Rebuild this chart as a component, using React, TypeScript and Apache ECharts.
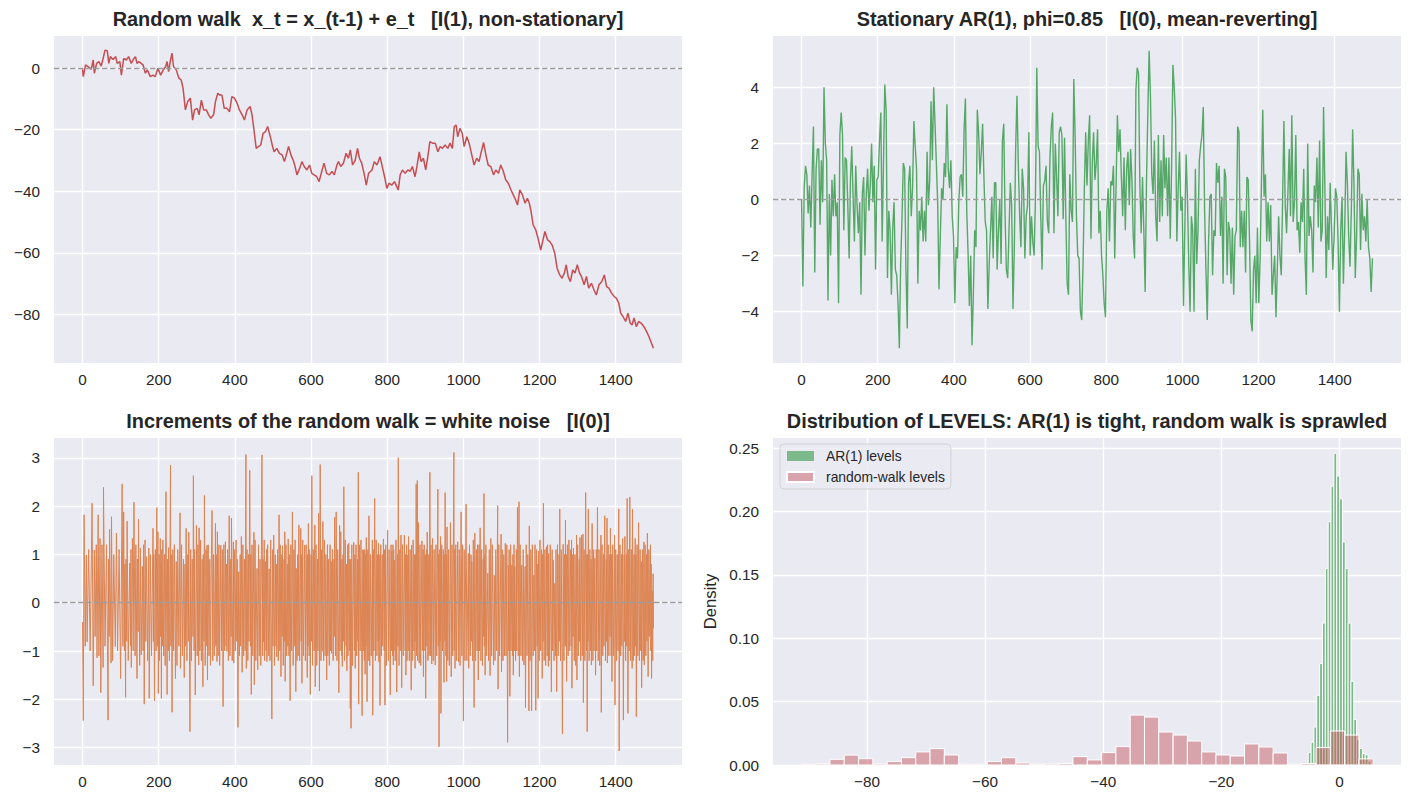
import React, { useEffect, useRef } from "react";
import * as echarts from "echarts";

// ---------------- data ----------------
// random walk: [step, level]
const rwPoints: [number, number][] = [
  [0,-0.4],[2,-2.8],[8,1.0],[17,0.2],[23,-0.4],[28,2.6],[31,-1.7],[37,1.5],[43,2.1],[49,0.6],[54,3.1],[59,5.8],[65,5.6],[69,1.5],[73,3.7],[80,2.8],[87,3.7],[91,1.5],[98,2.1],[102,-2.3],[108,3.1],[115,2.6],[121,3.7],[128,1.5],[135,3.1],[139,3.7],[143,1.5],[148,2.1],[154,1.5],[159,1.0],[165,-1.7],[170,-0.6],[178,-2.8],[185,-2.3],[191,-2.8],[198,-0.1],[205,-2.3],[212,-0.6],[218,0.4],[222,2.1],[226,-1.2],[231,2.6],[235,4.8],[239,0.4],[246,-0.6],[253,-3.3],[259,-3.9],[264,-6.6],[270,-13.6],[276,-10.9],[283,-9.8],[289,-16.9],[294,-13.6],[301,-13.1],[306,-15.2],[312,-10.4],[318,-13.6],[325,-13.6],[331,-15.2],[337,-16.3],[344,-15.2],[349,-10.9],[355,-8.2],[360,-8.8],[366,-8.8],[372,-13.1],[379,-13.1],[386,-14.2],[392,-9.3],[399,-9.8],[406,-11.5],[412,-13.6],[419,-15.2],[425,-16.9],[432,-13.6],[440,-12.5],[445,-15.2],[449,-19.0],[456,-26.1],[462,-25.5],[468,-25.0],[474,-21.2],[480,-20.7],[486,-19.0],[493,-22.3],[499,-25.5],[503,-27.2],[510,-26.1],[517,-27.7],[524,-28.2],[530,-30.4],[535,-28.2],[541,-25.5],[547,-28.2],[553,-29.9],[557,-31.5],[563,-34.7],[570,-32.6],[576,-30.4],[582,-32.0],[589,-33.1],[596,-31.5],[602,-34.2],[608,-34.7],[615,-35.3],[621,-36.9],[628,-33.6],[634,-30.9],[641,-34.2],[648,-34.7],[655,-33.6],[661,-34.7],[668,-31.5],[672,-30.4],[678,-32.0],[685,-30.9],[692,-27.7],[698,-29.3],[703,-26.6],[709,-31.5],[716,-29.9],[722,-26.1],[727,-29.3],[733,-30.9],[740,-34.7],[745,-38.0],[751,-34.2],[760,-33.1],[766,-30.4],[773,-31.5],[781,-28.8],
  [787,-32.0],[793,-35.3],[799,-39.1],[805,-37.4],[812,-38.0],[819,-36.9],[825,-38.5],[829,-39.6],[834,-34.7],[840,-33.1],[847,-34.2],[854,-33.1],[860,-33.6],[866,-32.0],[873,-35.3],[878,-32.0],[884,-27.2],[889,-30.4],[895,-29.3],[901,-33.1],[906,-29.3],[912,-23.9],[919,-24.4],[926,-24.4],[933,-27.2],[939,-25.5],[945,-26.1],[952,-25.0],[959,-26.1],[965,-24.4],[971,-26.1],[976,-19.0],[981,-18.5],[985,-22.3],[991,-19.6],[997,-21.2],[1002,-25.5],[1009,-22.3],[1015,-24.4],[1022,-28.2],[1028,-31.5],[1035,-29.3],[1041,-30.4],[1046,-27.7],[1053,-24.2],[1059,-28.2],[1065,-31.5],[1072,-32.0],[1079,-34.7],[1085,-33.1],[1092,-34.2],[1098,-31.5],[1105,-33.6],[1111,-36.3],[1118,-37.4],[1125,-39.6],[1131,-41.2],[1137,-42.8],[1142,-44.5],[1148,-39.6],[1155,-41.2],[1162,-43.9],[1168,-42.3],[1173,-43.9],[1177,-46.1],[1183,-50.9],[1190,-52.6],[1196,-55.3],[1203,-59.1],[1208,-56.4],[1214,-53.1],[1221,-55.8],[1227,-56.4],[1233,-57.5],[1240,-60.2],[1246,-65.0],[1253,-67.2],[1259,-68.3],[1265,-66.6],[1270,-63.9],[1275,-67.7],[1281,-69.4],[1287,-65.6],[1293,-66.6],[1299,-63.9],[1305,-66.6],[1310,-67.7],[1317,-70.4],[1323,-67.7],[1329,-71.5],[1336,-69.9],[1343,-72.1],[1349,-73.7],[1356,-70.4],[1363,-69.4],[1370,-67.2],[1376,-71.0],[1382,-71.5],[1389,-73.1],[1396,-74.2],[1402,-74.8],[1408,-76.4],[1413,-79.6],[1419,-80.7],[1426,-82.3],[1432,-79.6],[1438,-82.9],[1443,-83.4],[1448,-81.2],[1454,-84.0],[1460,-82.3],[1467,-82.9],[1474,-84.0],[1481,-85.6],[1487,-87.2],[1492,-88.8],[1499,-91.0]
];

// stationary AR(1) levels, read at evenly spaced steps over 0..1499
const arLastStep = 1499;
const arLevels: number[] = [
  0.0,-3.1,0.4,1.2,0.9,-0.5,0.5,-1.0,0.9,2.6,
  -2.6,1.1,1.8,1.8,-0.9,1.4,-0.1,4.0,2.0,1.4,
  -3.6,0.2,-2.0,0.7,-0.6,0.9,-0.6,-0.1,-3.7,2.3,
  3.1,2.3,-1.1,1.5,1.4,-0.2,-2.1,0.7,1.9,0.1,
  -1.5,1.2,-0.2,-1.2,-0.1,-3.4,0.2,0.8,-2.0,0.2,
  1.1,-0.4,0.5,2.0,-0.1,1.2,-2.5,0.7,0.8,2.1,
  3.1,-1.5,1.3,4.1,3.2,-2.8,-0.4,-1.1,-3.4,-1.0,
  -0.1,-2.5,-2.7,-3.7,-5.3,-2.3,-0.7,1.3,1.1,-2.5,
  -4.6,0.6,1.2,-0.6,0.4,2.8,1.9,1.1,-3.0,-0.4,
  -1.1,0.1,-1.5,-0.4,-1.5,1.7,-0.2,0.7,3.5,1.4,
  4.0,2.7,1.3,-0.1,-3.2,-1.3,0.4,0.0,1.3,0.8,
  3.4,1.1,0.4,1.4,-0.6,-1.3,-3.7,-1.7,-2.1,-0.1,
  0.8,0.9,0.1,2.5,3.6,-0.4,-1.9,-3.8,-2.0,-5.2,
  -3.4,-1.1,-1.7,3.2,2.4,0.9,1.7,2.7,0.8,-0.8,
  -1.1,-3.9,-2.3,-1.1,0.1,-2.1,0.6,0.6,-2.5,-1.1,
  0.0,-2.3,2.1,2.7,-0.6,-2.5,-2.8,-1.1,0.6,-0.2,
  -3.9,-1.7,1.8,3.7,1.3,-0.5,-1.7,1.1,0.4,-2.1,
  -0.6,-0.2,2.4,-2.0,-0.6,-1.5,-2.0,0.1,4.7,1.9,
  1.7,-0.6,-2.5,0.5,0.65,1.2,-0.8,-1.2,1.5,2.6,
  3.1,-1.2,2.0,0.8,-0.6,2.4,2.6,2.3,-0.7,2.2,
  -0.7,-3.0,-3.4,0.9,-0.4,-0.8,4.3,2.3,-0.6,-2.0,
  -2.1,-4.0,-4.3,
  -2.3,0.4,2.4,0.5,2.1,3.0,-1.4,1.3,2.4,0.7,
  1.3,2.5,-1.2,-0.4,-2.0,-2.7,-3.7,-4.2,-0.4,0.4,
  -1.5,0.65,0.5,1.2,-2.1,0.5,3.0,1.7,2.5,0.8,
  -0.6,1.5,-1.1,1.1,1.7,-0.2,1.8,0.7,-1.3,-2.1,
  3.9,4.7,4.5,0.5,-1.2,0.8,-1.1,-3.3,0.6,3.0,
  5.3,3.7,0.9,0.2,2.1,-0.6,-1.5,2.3,-0.8,1.4,
  -0.6,2.3,0.4,1.5,-0.6,1.5,-1.4,1.1,4.8,4.0,
  2.9,-1.5,0.4,1.7,-0.4,0.1,-3.8,-1.1,1.6,0.1,
  -2.3,-4.0,-0.6,-1.1,-4.0,1.1,-2.3,-1.1,1.4,1.9,
  2.3,3.3,-0.4,-2.5,-4.3,-1.5,0.1,0.2,-2.7,-1.1,
  -1.3,1.3,0.6,1.2,-1.3,0.1,-3.0,1.1,0.8,-2.7,
  -0.8,-1.1,-3.0,-1.0,-3.4,-1.3,-1.1,2.6,2.4,-1.7,
  -0.4,-1.7,-0.4,-2.6,0.8,0.7,-1.5,-4.3,-4.7,-2.5,
  -2.0,-3.7,-1.0,-3.7,-2.1,0.6,3.2,0.1,0.9,-1.5,
  -0.1,-1.5,-0.2,-3.4,-2.7,-2.0,-4.2,-2.5,-0.6,-2.0,
  -2.7,-0.1,2.8,-0.2,-1.2,0.2,1.8,-0.6,3.0,-0.8,
  -0.1,2.3,-1.1,-0.8,-1.9,-0.1,-0.8,1.1,-2.1,-3.4,
  2.0,-1.3,-0.6,-1.1,-2.6,0.5,-0.1,1.5,-1.0,2.1,
  -1.5,-1.1,3.3,0.4,-2.8,-0.6,-1.8,0.6,-1.0,-2.5,
  -1.3,0.4,0.1,-1.5,-4.0,-1.1,0.1,-3.0,-1.1,1.7,
  0.6,-1.3,-2.4,-0.4,2.5,0.6,-2.8,-1.3,1.1,0.9,
  -1.8,0.2,-1.1,-0.6,-1.5,0.0,-1.7,-2.1,-3.3,-2.1
];

// increments (white noise): [step, value]
const noisePoints: [number, number][] = [
  [0,-0.4],[2,-2.44],[4,1.82],[7,-0.9],[10,0.99],[12,-0.81],[16,1.1],[20,-1.0],[25,2.06],[28,-1.72],[31,1.09],[33,-0.7],[36,1.2],[38,-1.14],[41,1.82],[43,-1.1],[46,1.33],[48,-1.86],[51,1.2],[54,-1.34],[55,2.39],[59,-0.9],[63,1.2],[67,-2.43],[68,0.9],[70,-0.7],[71,1.52],[75,-1.25],[76,1.78],[79,-1.2],[82,1.0],[86,-0.91],[89,1.44],[92,-1.0],[96,1.1],[100,-1.57],[104,2.46],[106,-0.9],[108,1.88],[110,-1.0],[111,0.8],[113,-1.96],[114,0.9],[116,-0.8],[117,1.69],[120,-1.2],[124,0.82],[126,-0.9],[127,1.1],[128,-1.34],[131,1.33],[133,-1.0],[135,2.08],[138,-1.1],[140,1.2],[143,-1.57],[144,0.9],[146,-0.6],[147,1.73],[150,-1.3],[152,1.13],[154,-1.08],[157,0.75],[159,-1.0],[160,1.2],[162,-2.10],[164,1.3],[166,-0.8],[168,0.95],[171,-1.2],[174,1.13],[175,-1.98],[178,1.0],[181,-1.1],[185,1.54],[186,-0.8],[187,1.0],[189,-2.03],[191,1.1],[193,-1.0],[195,1.97],[196,-0.9],[198,1.47],[199,-1.88],[201,1.0],[202,-1.2],[204,1.33],[205,-0.7],[206,0.8],[207,-1.98],[208,1.1],[210,-0.9],[211,1.30],[213,-1.1],[215,1.0],[217,-1.3],[219,2.30],[222,-1.90],[223,0.9],[225,-1.0],[226,1.14],[228,-1.2],[231,2.85],[232,-0.9],[233,1.0],[235,-2.27],[237,1.1],[239,-1.0],[241,1.2],[244,-1.57],[246,0.85],[248,-1.3],[250,1.1],[253,-0.9],[256,1.86],[257,-1.36],[260,1.2],[262,-1.1],[265,0.9],[267,-1.55],[269,0.8],[270,-0.9],[272,1.54],[274,-1.2],[276,1.0],[278,-0.8],[279,1.46],[282,-2.67],[284,1.1],[286,-1.2],[288,0.9],[290,-0.7],[291,2.63],[293,-1.0],[294,1.1],[296,-1.91],[299,1.60],[301,-1.1],[303,1.2],[305,-1.29],[306,1.55],[308,-1.0],[310,1.3],[312,-1.2],[314,0.9],[316,-1.74],[317,1.0],[319,-0.8],[320,2.22],[322,-1.3],[324,1.1],[326,-0.9],[327,1.19],[328,-1.60],[330,1.2],[332,-1.1],[334,0.9],[336,-1.3],[338,0.8],[340,1.91],[342,-1.2],[344,1.0],[346,-1.1],[349,1.64],[350,-0.9],[351,1.0],[353,-1.22],[354,1.47],[356,-1.1],[358,1.2],[360,-1.3],[363,1.19],[365,-1.0],[367,1.1],[369,-2.15],[371,1.2],[373,-1.0],[375,1.26],[377,-0.9],[378,0.8],[379,-1.01],[381,1.1],[383,-1.2],[385,1.80],[387,-1.1],[389,0.9],[390,-0.7],[391,1.75],[393,-1.2],[396,1.26],[397,-1.25],[399,1.1],[401,-1.0],[403,1.3],[405,-0.8],[406,0.9],[408,-2.58],[410,0.64],[412,-1.1],[414,1.0],[415,-0.9],[417,1.37],[419,-1.44],[421,1.2],[423,-1.1],[425,0.9],[427,-1.0],[429,3.07],[430,-1.36],[432,1.1],[434,-1.2],[436,1.0],[437,-0.8],[439,2.74],[441,-0.9],[442,1.0],[443,-1.90],[445,1.2],[447,-1.1],[450,1.46],[451,-1.70],[453,1.3],[455,-1.2],[458,0.71],[460,-1.39],[462,1.2],[464,-1.1],[466,0.9],[468,-1.3],[471,3.06],[473,-1.1],[474,0.9],[475,-0.81],[477,1.3],[478,-1.2],[480,0.85],[482,-1.0],[483,1.1],[484,-1.22],[486,1.2],[488,-1.1],[490,0.70],[492,-1.2],[494,1.3],[497,-2.41],[499,1.1],[500,-0.9],[502,1.40],[504,-1.3],[506,1.0],[508,-0.9],[509,0.8],[510,-1.12],[512,1.1],[514,-1.2],[516,1.82],[518,-1.0],[519,1.2],[521,-1.53],[523,1.0],[524,-0.7],[525,1.18],[527,-1.3],[529,0.9],[530,-0.8],[531,1.47],[532,-1.63],[534,1.2],[536,-1.1],[538,0.8],[539,-0.9],[540,1.32],[542,-1.1],[543,1.0],[545,-2.03],[547,1.2],[549,-1.0],[551,1.88],[553,-1.3],[555,1.1],[557,-0.9],[558,1.3],[560,-1.84],[561,0.71],[563,-1.2],[565,1.0],[566,-1.1],[568,1.61],[570,-1.2],[573,1.54],[574,-0.8],[575,1.0],[576,-1.67],[578,1.3],[580,-1.1],[583,1.19],[585,-1.2],[587,1.2],[590,-1.55],[591,1.0],[592,-0.9],[593,1.64],[595,-1.1],[596,1.1],[598,-1.90],[600,1.0],[601,-0.8],[602,2.63],[604,-1.3],[606,1.1],[608,-1.0],[610,1.61],[611,-1.74],[613,1.2],[615,-1.3],[617,0.9],[618,-1.0],[620,1.85],[622,-1.83],[624,2.86],[626,-1.2],[627,1.1],[629,-1.01],[631,1.68],[633,-1.2],[635,1.3],[637,-1.1],[639,1.0],[641,-1.60],[643,1.2],[644,-1.1],[646,0.90],[648,-1.3],[650,1.2],[651,-1.0],[653,0.85],[654,-1.05],[656,1.1],[658,-1.2],[660,0.9],[661,-0.7],[662,1.77],[664,-1.1],[666,1.88],[668,-1.2],[670,1.1],[673,-1.86],[675,1.60],[676,-1.0],[678,1.47],[680,-1.1],[681,0.9],[682,-1.32],[684,1.0],[685,-0.8],[686,2.40],[688,-1.2],[690,1.3],[692,-0.9],[693,0.8],[694,-1.41],[696,1.2],[697,-1.1],[699,1.23],[701,-1.0],[702,0.9],[703,-2.19],[704,0.9],[705,-2.60],[707,1.2],[709,-1.3],[712,1.25],[714,-1.0],[715,1.0],[716,-1.36],[718,1.2],[720,-1.1],[722,0.9],[723,-0.8],[724,2.70],[725,-2.10],[727,1.2],[729,-1.0],[731,1.3],[734,-2.34],[736,1.1],[737,-1.0],[738,1.09],[740,-1.2],[741,1.1],[742,-1.48],[743,1.0],[744,-0.9],[745,1.35],[747,-2.05],[749,1.1],[750,-1.2],[752,1.80],[754,-1.3],[756,1.0],[758,-1.1],[761,1.30],[762,-2.33],[764,1.1],[765,-1.0],[767,2.16],[769,-1.2],[771,1.3],[773,-1.1],[775,1.0],[776,-0.8],[777,1.23],[778,-1.22],[779,1.0],
  [781,-2.13],[783,1.2],[785,-1.1],[787,1.0],[788,-0.9],[790,1.32],[792,-1.0],[793,1.1],[794,-2.12],[796,1.2],[798,-1.3],[801,1.50],[803,-1.2],[805,1.1],[808,-1.91],[810,1.2],[811,-1.0],[812,1.06],[814,-1.1],[815,1.2],[816,-1.29],[817,1.1],[818,-1.0],[819,0.88],[821,-1.2],[823,1.3],[825,-1.85],[827,1.0],[828,-0.9],[829,3.00],[831,-1.3],[833,1.1],[834,-1.0],[836,1.40],[838,-1.76],[840,1.2],[842,-1.1],[845,1.40],[847,-1.0],[848,1.0],[849,-1.50],[851,1.2],[852,-1.2],[854,0.99],[855,-1.0],[856,1.37],[858,-1.2],[860,1.1],[863,-1.81],[864,1.19],[866,-1.2],[868,1.3],[870,-1.0],[871,1.0],[873,-1.36],[874,1.0],[875,-0.8],[876,2.46],[877,-1.1],[879,2.53],[880,-1.2],[882,1.66],[884,-1.25],[886,1.2],[888,-1.3],[891,1.28],[893,-1.0],[894,1.1],[895,-1.53],[897,1.2],[899,-1.0],[900,1.0],[901,-1.98],[903,1.1],[904,-0.9],[905,1.46],[907,-1.2],[909,1.0],[910,-1.1],[912,2.70],[914,-1.1],[915,1.2],[917,-1.27],[919,1.33],[921,-1.2],[923,1.1],[926,-1.29],[928,1.2],[930,-1.1],[933,2.35],[934,-0.9],[935,1.0],[936,-2.98],[938,1.1],[939,-0.8],[940,1.37],[941,-2.29],[943,1.2],[945,-1.0],[947,1.1],[949,-1.65],[950,1.0],[951,-0.8],[952,2.28],[954,-1.1],[955,1.0],[956,-1.63],[957,1.57],[959,-1.2],[961,1.1],[963,-1.3],[966,1.66],[968,-1.53],[970,1.2],[972,-1.1],[975,3.11],[976,-1.0],[977,1.1],[978,-1.36],[980,1.2],[982,-1.2],[985,1.26],[987,-1.22],[989,1.1],[991,-1.3],[994,1.88],[996,-1.1],[998,1.2],[1000,-2.45],[1002,1.1],[1004,-1.2],[1007,2.04],[1009,-1.2],[1013,1.02],[1014,-1.36],[1016,1.2],[1018,-1.1],[1020,1.0],[1021,-0.8],[1022,0.85],[1024,-1.2],[1026,1.3],[1028,-2.17],[1030,1.44],[1032,-1.2],[1034,1.1],[1036,-1.0],[1037,1.2],[1039,-1.60],[1041,1.2],[1042,-1.0],[1044,1.55],[1046,-1.2],[1048,1.1],[1050,-1.3],[1052,0.9],[1053,-0.7],[1054,2.26],[1055,-0.9],[1056,1.0],[1057,-1.50],[1059,1.2],[1061,-1.1],[1064,0.61],[1066,-1.2],[1068,1.1],[1070,-1.51],[1072,1.33],[1074,-1.1],[1076,1.2],[1079,-1.29],[1081,0.57],[1083,-1.2],[1085,1.1],[1087,-1.0],[1090,2.01],[1091,-1.79],[1093,1.2],[1095,-1.1],[1099,1.42],[1100,-1.43],[1102,1.1],[1104,-1.2],[1106,1.0],[1108,-1.1],[1110,1.23],[1112,-1.1],[1114,1.2],[1116,-2.89],[1118,0.78],[1119,-1.0],[1120,1.1],[1122,-1.94],[1124,1.2],[1125,-1.0],[1127,0.78],[1129,-1.1],[1130,1.0],[1131,-1.50],[1133,1.2],[1134,-1.0],[1135,0.75],[1137,-1.2],[1139,1.1],[1140,-1.0],[1142,1.97],[1144,-1.1],[1146,2.09],[1147,-1.53],[1149,1.2],[1151,-1.1],[1153,0.78],[1155,-1.2],[1157,1.1],[1159,-1.29],[1162,0.75],[1163,-2.17],[1165,1.2],[1167,-1.1],[1169,1.0],[1172,-2.24],[1173,1.59],[1175,-1.2],[1177,1.1],[1179,-2.24],[1181,1.2],[1183,-1.1],[1185,0.57],[1187,-1.0],[1188,1.2],[1190,-2.23],[1192,1.1],[1194,-0.9],[1195,0.8],[1196,-1.98],[1197,1.07],[1199,-1.2],[1201,1.3],[1203,-1.0],[1205,1.1],[1207,-1.57],[1208,1.0],[1209,-0.8],[1210,2.06],[1212,-1.2],[1214,1.1],[1216,-1.3],[1218,1.16],[1220,-1.1],[1221,1.2],[1223,-1.32],[1224,1.02],[1226,-1.2],[1228,1.2],[1231,-1.85],[1233,1.1],[1234,-1.0],[1236,0.88],[1238,-1.2],[1240,0.40],[1242,-1.1],[1243,1.1],[1245,-1.84],[1247,1.2],[1249,-1.1],[1251,1.0],[1252,-0.8],[1253,1.94],[1255,-1.2],[1257,1.1],[1260,-2.72],[1262,1.21],[1264,-1.2],[1266,1.0],[1267,-0.9],[1268,1.71],[1269,-0.9],[1270,1.0],[1271,-1.63],[1273,1.2],[1275,-1.1],[1277,1.3],[1279,-1.0],[1281,1.1],[1283,-0.9],[1284,1.30],[1285,-1.77],[1287,1.0],[1288,-0.7],[1289,1.13],[1291,-1.2],[1293,1.0],[1295,-1.3],[1297,1.40],[1298,-1.60],[1300,1.2],[1302,-1.1],[1304,0.9],[1305,-0.8],[1306,1.35],[1308,-1.2],[1310,1.40],[1312,-1.1],[1314,1.42],[1315,-2.07],[1317,1.1],[1319,-1.2],[1321,2.28],[1323,-1.0],[1324,1.0],[1325,-2.67],[1326,1.0],[1327,-0.8],[1328,1.94],[1330,-1.2],[1332,1.1],[1334,-1.0],[1335,0.9],[1336,-1.29],[1338,1.64],[1340,-1.2],[1342,1.1],[1343,-1.0],[1345,0.92],[1347,-1.50],[1349,1.1],[1350,-1.0],[1352,1.97],[1354,-1.2],[1356,1.1],[1358,-1.3],[1361,1.40],[1362,-2.27],[1364,1.2],[1366,-1.1],[1368,1.0],[1369,-0.9],[1371,1.80],[1373,-1.2],[1375,0.9],[1376,-0.8],[1377,1.75],[1378,-1.25],[1380,1.2],[1382,-1.1],[1384,1.0],[1385,-0.7],[1386,1.54],[1388,-1.1],[1389,1.0],[1390,-1.63],[1392,1.2],[1394,-1.1],[1397,1.40],[1398,-2.12],[1400,1.1],[1402,-1.2],[1404,1.0],[1406,-1.0],[1408,1.94],[1409,-3.07],[1411,1.2],[1413,-1.1],[1415,1.0],[1416,-0.9],[1418,1.33],[1420,-2.43],[1422,1.0],[1423,-0.8],[1424,1.37],[1426,-1.2],[1428,1.0],[1429,-0.9],[1430,2.16],[1432,-2.29],[1434,1.1],[1435,-1.0],[1437,2.19],[1439,-1.2],[1441,1.1],[1443,-1.36],[1444,1.94],[1446,-1.2],[1448,1.0],[1449,-1.1],[1451,1.33],[1452,-0.9],[1453,1.0],[1454,-2.36],[1456,1.2],[1458,-1.1],[1460,1.66],[1462,-1.2],[1464,1.1],[1465,-1.0],[1467,0.85],[1468,-1.76],[1470,1.1],[1472,-1.2],[1474,1.26],[1475,-1.29],[1477,1.2],[1479,-1.1],[1481,1.0],[1482,-0.8],[1483,1.44],[1485,-1.53],[1487,1.1],[1488,-0.7],[1489,0.23],[1491,1.2],[1492,-1.0],[1493,0.8],[1494,-1.57],[1496,0.24],[1497,-1.2],[1498,0.6],[1499,-0.53]
];

// histograms (density)
const arBinStart = -5.3;
const arBinWidth = 0.482;
const arDensity = [0.010,0.018,0.030,0.055,0.080,0.112,0.155,0.192,0.220,0.246,0.228,0.210,0.176,0.155,0.112,0.066,0.036,0.020,0.013,0.009,0.008,0.003];
const rwBinStart = -91.1;
const rwBinWidth = 2.42;
const rwDensity = [0.0006,0.0008,0.0045,0.0078,0.0050,0.0008,0.0027,0.0058,0.0103,0.0129,0.0079,0.0006,0.0006,0.0027,0.0058,0.0016,0.0006,0.0008,0.0012,0.0066,0.0040,0.0098,0.0145,0.0394,0.0378,0.0260,0.0236,0.0189,0.0103,0.0079,0.0071,0.0166,0.0142,0.0095,0.0006,0.0012,0.0137,0.0268,0.0236,0.0048];

// ticks
const stepTicks = [0, 200, 400, 600, 800, 1000, 1200, 1400];
const rwTicks = [-80, -60, -40, -20, 0];
const arTicks = [-4, -2, 0, 2, 4];
const noiseTicks = [-3, -2, -1, 0, 1, 2, 3];
const densityTicks = [0, 0.05, 0.1, 0.15, 0.2, 0.25];
const levelTicks = [-80, -60, -40, -20, 0];

const titles = [
  "Random walk  x_t = x_(t-1) + e_t   [I(1), non-stationary]",
  "Stationary AR(1), phi=0.85   [I(0), mean-reverting]",
  "Increments of the random walk = white noise   [I(0)]",
  "Distribution of LEVELS: AR(1) is tight, random walk is sprawled",
];
const legendNames = ["AR(1) levels", "random-walk levels"];

// ---------------- styling ----------------
const FONT = "'Liberation Sans', Arial, Helvetica, sans-serif";
const INK = "#262626";
const PANEL = "#EAEAF2";
const RED = "#C44E52";
const GREEN = "#55A868";
const ORANGE = "#DD8452";
const TICK_FS = 15.3;

const minus = (v: number) => String(v).replace("-", "\u2212");

function xAxisFor(grid: number, min: number, max: number, ticks: number[], splitNumber: number) {
  return {
    type: "value",
    gridIndex: grid,
    min,
    max,
    splitNumber,
    axisLine: { show: false },
    axisTick: { show: false, customValues: ticks },
    axisLabel: {
      customValues: ticks,
      formatter: (v: number) => minus(v),
      fontSize: TICK_FS,
      color: INK,
      fontFamily: FONT,
      margin: 9,
    },
    splitLine: { show: true, lineStyle: { color: "#ffffff", width: 1.4 } },
  };
}

function yAxisFor(grid: number, min: number, max: number, ticks: number[], splitNumber: number, fmt?: (v: number) => string) {
  return {
    type: "value",
    gridIndex: grid,
    min,
    max,
    splitNumber,
    axisLine: { show: false },
    axisTick: { show: false, customValues: ticks },
    axisLabel: {
      customValues: ticks,
      formatter: fmt || ((v: number) => minus(v)),
      fontSize: TICK_FS,
      color: INK,
      fontFamily: FONT,
      margin: 14,
    },
    splitLine: { show: true, lineStyle: { color: "#ffffff", width: 1.4 } },
  };
}

const zeroLine = {
  silent: true,
  symbol: ["none", "none"],
  label: { show: false },
  lineStyle: { color: "#9d9da1", type: [5.5, 2.5], width: 1.4 },
  data: [{ yAxis: 0 }],
};

function histRenderer(fill: string) {
  return (params: any, api: any) => {
    const topLeft = api.coord([api.value(0), api.value(2)]);
    const bottomRight = api.coord([api.value(1), 0]);
    return {
      type: "rect",
      shape: {
        x: topLeft[0],
        y: topLeft[1],
        width: bottomRight[0] - topLeft[0],
        height: bottomRight[1] - topLeft[1],
      },
      style: { fill, stroke: "#ffffff", lineWidth: 1 },
    };
  };
}

export default function App() {
  const ref = useRef<HTMLDivElement>(null);

  useEffect(() => {
    if (!ref.current) return;
    const chart = echarts.init(ref.current, undefined, { renderer: "svg" });

    const arData = arLevels.map((v, i) => [(i * arLastStep) / (arLevels.length - 1), v]);
    const arHist = arDensity.map((d, i) => [arBinStart + i * arBinWidth, arBinStart + (i + 1) * arBinWidth, d]);
    const rwHist = rwDensity.map((d, i) => [rwBinStart + i * rwBinWidth, rwBinStart + (i + 1) * rwBinWidth, d]);

    const arFill = "rgba(85,168,104,0.74)";
    const rwFill = "rgba(196,78,82,0.45)";

    const grids = [
      { left: 54, top: 36, width: 628, height: 327 },
      { left: 773, top: 36, width: 628, height: 327 },
      { left: 54, top: 438, width: 628, height: 327 },
      { left: 773, top: 438, width: 628, height: 327 },
    ].map((g) => ({ ...g, show: true, backgroundColor: PANEL, borderWidth: 0, containLabel: false }));

    const titleCenters = [
      [368, 19],
      [1087, 19],
      [368, 421],
      [1087, 421],
    ];

    const option: any = {
      animation: false,
      grid: grids,
      xAxis: [
        xAxisFor(0, -74.95, 1573.95, stepTicks, 8),
        xAxisFor(1, -74.95, 1573.95, stepTicks, 8),
        xAxisFor(2, -74.95, 1573.95, stepTicks, 8),
        xAxisFor(3, -95.9, 10.4, levelTicks, 5),
      ],
      yAxis: [
        yAxisFor(0, -95.8, 10.4, rwTicks, 5),
        yAxisFor(1, -5.83, 5.83, arTicks, 6),
        yAxisFor(2, -3.36, 3.41, noiseTicks, 7),
        {
          ...yAxisFor(3, 0, 0.258, densityTicks, 5, (v: number) => v.toFixed(2)),
          name: "Density",
          nameLocation: "middle",
          nameGap: 54,
          nameTextStyle: { fontSize: 16.7, color: INK, fontFamily: FONT },
        },
      ],
      legend: {
        data: legendNames,
        orient: "vertical",
        left: 780,
        top: 444,
        itemWidth: 27,
        itemHeight: 10,
        itemGap: 7,
        padding: [5, 6, 5, 6],
        backgroundColor: "rgba(234,234,242,0.8)",
        borderColor: "rgba(204,204,204,0.8)",
        borderWidth: 1,
        borderRadius: 4,
        icon: "rect",
        selectedMode: false,
        textStyle: { fontSize: 13.9, color: INK, fontFamily: FONT, lineHeight: 14, padding: [0, 0, 0, 7] },
      },
      graphic: titles.map((t, i) => ({
        type: "text",
        x: titleCenters[i][0],
        y: titleCenters[i][1],
        silent: true,
        style: {
          text: t,
          fill: INK,
          font: `bold 19.9px ${FONT}`,
          textAlign: "center",
          textVerticalAlign: "middle",
        },
      })),
      series: [
        {
          type: "line",
          xAxisIndex: 0,
          yAxisIndex: 0,
          data: rwPoints,
          showSymbol: false,
          symbol: "none",
          lineStyle: { color: RED, width: 1.5 },
          itemStyle: { color: RED },
          markLine: zeroLine,
          silent: true,
        },
        {
          type: "line",
          xAxisIndex: 1,
          yAxisIndex: 1,
          data: arData,
          showSymbol: false,
          symbol: "none",
          lineStyle: { color: GREEN, width: 1.4 },
          itemStyle: { color: GREEN },
          markLine: zeroLine,
          silent: true,
        },
        {
          type: "line",
          xAxisIndex: 2,
          yAxisIndex: 2,
          data: noisePoints,
          showSymbol: false,
          symbol: "none",
          lineStyle: { color: ORANGE, width: 1 },
          itemStyle: { color: ORANGE },
          markLine: zeroLine,
          silent: true,
        },
        {
          type: "custom",
          name: legendNames[0],
          xAxisIndex: 3,
          yAxisIndex: 3,
          data: arHist,
          encode: { x: [0, 1], y: 2 },
          renderItem: histRenderer(arFill),
          itemStyle: { color: arFill },
          clip: true,
          silent: true,
        },
        {
          type: "custom",
          name: legendNames[1],
          xAxisIndex: 3,
          yAxisIndex: 3,
          data: rwHist,
          encode: { x: [0, 1], y: 2 },
          renderItem: histRenderer(rwFill),
          itemStyle: { color: rwFill, borderColor: "#ffffff", borderWidth: 1 },
          clip: true,
          silent: true,
        },
      ],
    };

    chart.setOption(option);
    return () => {
      chart.dispose();
    };
  }, []);

  return (
    <div
      ref={ref}
      style={{ position: "fixed", left: 0, top: 0, width: 1412, height: 807, background: "#ffffff" }}
    />
  );
}
